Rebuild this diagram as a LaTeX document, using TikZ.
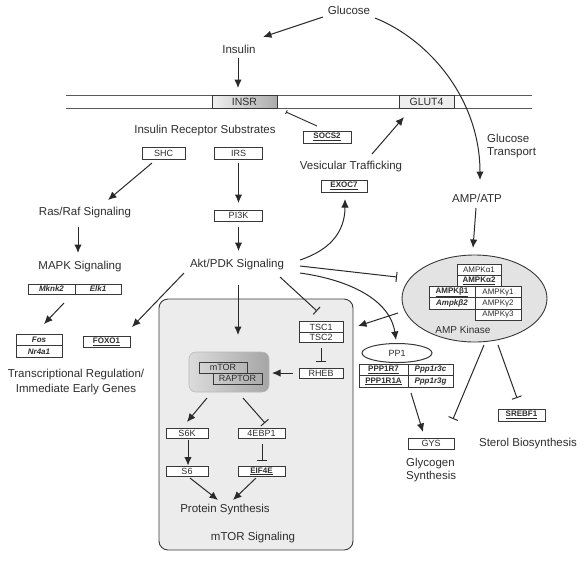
\documentclass[tikz,border=0pt]{standalone}
\usepackage{fontspec}
\setmainfont{Liberation Sans}
\usetikzlibrary{arrows.meta,calc,shapes.geometric}
\definecolor{ln}{HTML}{2A2A2A}
\definecolor{bx}{HTML}{383838}
\definecolor{tx}{HTML}{2E2E2E}
\begin{document}
\begin{tikzpicture}[x=1pt,y=-1pt,
  lbl/.style={font=\fontsize{11.5}{13}\selectfont, text=tx, inner sep=1pt},
  bx/.style={draw=bx, line width=1pt, fill=white, font=\fontsize{9}{9}\selectfont, text=tx, inner sep=0pt},
  sb/.style={bx, font=\fontsize{8}{8}\selectfont\bfseries},
  ab/.style={bx, font=\fontsize{8}{8}\selectfont, minimum height=11.3pt},
  mem/.style={draw=gray!70!black, line width=0.9pt},
  arr/.style={draw=ln, line width=1pt, -{Latex[length=8.5pt,width=7.5pt]}},
  inh/.style={draw=ln, line width=1pt, -{Bar[width=10pt,line width=1pt]}}
]
\useasboundingbox (0,0) rectangle (588,568);
\fill[white] (0,0) rectangle (588,568);

% mTOR signalling region
\node[draw=bx, line width=0.9pt, fill=gray!15, rounded corners=9pt, minimum width=194pt, minimum height=251pt, inner sep=0pt] (mtorbig) at (256,424.5) {};
\node[lbl] (mtorsig) at (253,538) {mTOR Signaling};

% membrane
\draw[mem] (66,95) -- (532,95);
\draw[mem] (66,108) -- (532,108);

% top labels
\node[lbl] (glucose) at (349,10) {Glucose};
\node[lbl] (insulin) at (239,49) {Insulin};
\node[bx, minimum width=65pt, minimum height=13pt, left color=gray!12, right color=gray!65, font=\fontsize{10.5}{11}\selectfont] (insr) at (244.5,101.5) {INSR};
\node[bx, minimum width=55pt, minimum height=13pt, fill=gray!14, font=\fontsize{10.5}{11}\selectfont] (glut4) at (426.5,101.5) {GLUT4};
\node[sb, minimum width=48pt, minimum height=12pt] (socs2) at (327,137) {\underline{SOCS2}};
\node[lbl] (irslbl) at (205,131) {Insulin Receptor Substrates};
\node[bx, minimum width=43pt, minimum height=12pt] (shc) at (163.5,153) {SHC};
\node[bx, minimum width=48pt, minimum height=12pt] (irs) at (238.5,153) {IRS};
\node[bx, minimum width=48pt, minimum height=11pt] (pi3k) at (238.5,215.5) {PI3K};
\node[lbl] (vesic) at (351,167) {Vesicular Trafficking};
\node[sb, minimum width=46pt, minimum height=12pt] (exoc7) at (344,186) {\underline{EXOC7}};
\node[lbl, align=left, anchor=west] (gtrans) at (486,146.5) {Glucose\\Transport};
\node[lbl] (ampatp) at (477,198) {AMP/ATP};

% left side
\node[lbl] (rasraf) at (85,213) {Ras/Raf Signaling};
\node[lbl] (mapk) at (80,267) {MAPK Signaling};
\node[lbl] (akt) at (237,265) {Akt/PDK Signaling};
\node[sb, minimum width=47pt, minimum height=10pt] (mknk2) at (51.5,289) {\itshape Mknk2};
\node[sb, minimum width=46pt, minimum height=10pt] (elk1) at (98,289) {\itshape Elk1};
\node[sb, minimum width=46pt, minimum height=11.5pt] (fos) at (39,340) {\itshape Fos};
\node[sb, minimum width=46pt, minimum height=11.5pt] (nr4a1) at (39,351.5) {\itshape Nr4a1};
\node[sb, minimum width=47pt, minimum height=11pt] (foxo1) at (106.5,341.5) {\underline{FOXO1}};
\node[lbl, align=center, font=\fontsize{11.5}{15}\selectfont] (transc) at (76,382.5) {Transcriptional Regulation/\\Immediate Early Genes};

% mTOR complex
\node[draw=gray!55, line width=0.6pt, rounded corners=7pt, left color=gray!28, middle color=gray!6, right color=gray!70, minimum width=80pt, minimum height=40pt, inner sep=0pt] (mtorcx) at (229,372) {};
\node[bx, fill=none, minimum width=48pt, minimum height=11pt] (mtor) at (223,367.5) {mTOR};
\node[bx, fill=none, minimum width=49pt, minimum height=11pt] (raptor) at (237.5,378.5) {RAPTOR};
\node[bx, minimum width=44pt, minimum height=10.5pt] (tsc1) at (321,327) {TSC1};
\node[bx, minimum width=44pt, minimum height=10.5pt] (tsc2) at (321,337.5) {TSC2};
\node[bx, minimum width=44pt, minimum height=10pt] (rheb) at (321,373) {RHEB};
\node[bx, minimum width=42pt, minimum height=10pt] (s6k) at (187,433.5) {S6K};
\node[bx, minimum width=47pt, minimum height=10pt] (ebp) at (261.5,433.5) {4EBP1};
\node[bx, minimum width=42pt, minimum height=10pt] (s6) at (187,471.5) {S6};
\node[sb, minimum width=47pt, minimum height=10pt] (eif4e) at (261.5,471.5) {\underline{EIF4E}};
\node[lbl] (protein) at (225,510) {Protein Synthesis};

% AMP kinase
\node[draw=bx, line width=0.9pt, fill=gray!22, ellipse, minimum width=145pt, minimum height=87pt, inner sep=0pt] (ampk) at (474.5,298.5) {};
\node[ab, minimum width=44pt] (a1) at (479,269.65) {AMPKα1};
\node[ab, minimum width=44pt, font=\fontsize{8}{8}\selectfont\bfseries] (a2) at (479,280.95) {\underline{AMPKα2}};
\node[ab, minimum width=46pt, font=\fontsize{8}{8}\selectfont\bfseries] (b1) at (452,292.25) {\underline{AMPKβ1}};
\node[ab, minimum width=46pt, font=\fontsize{8}{8}\selectfont\bfseries\itshape] (b2) at (452,303.55) {Ampkβ2};
\node[ab, minimum width=46pt] (g1) at (498,292.25) {AMPKγ1};
\node[ab, minimum width=46pt] (g2) at (498,303.55) {AMPKγ2};
\node[ab, minimum width=46pt] (g3) at (498,314.85) {AMPKγ3};
\node[lbl, font=\fontsize{10}{11}\selectfont] (ampklbl) at (463,330) {AMP Kinase};

% PP1
\node[draw=bx, line width=1pt, fill=white, ellipse, minimum width=70pt, minimum height=19pt, inner sep=0pt, font=\fontsize{9}{9}\selectfont, text=tx] (pp1) at (397,353) {PP1};
\node[sb, minimum width=49pt, minimum height=11.5pt] (r7) at (383.5,369.75) {\underline{PPP1R7}};
\node[sb, minimum width=45pt, minimum height=11.5pt] (r3c) at (430.5,369.75) {\itshape Ppp1r3c};
\node[sb, minimum width=49pt, minimum height=11.5pt] (r1a) at (383.5,381.25) {\underline{PPP1R1A}};
\node[sb, minimum width=45pt, minimum height=11.5pt] (r3g) at (430.5,381.25) {\itshape Ppp1r3g};
\node[bx, minimum width=46pt, minimum height=11pt] (gys) at (431,443.5) {GYS};
\node[lbl, align=left, anchor=west] (glyco) at (405,470.5) {Glycogen\\Synthesis};
\node[sb, minimum width=47pt, minimum height=12pt] (srebf1) at (521.5,415) {\underline{SREBF1}};
\node[lbl] (sterol) at (528,444) {Sterol Biosynthesis};

% connectors
\draw[arr] ($(glucose)+(-26,7)$) -- ($(insulin)+(24,-12)$);
\draw[arr] ($(glucose)+(26,8)$) .. controls (430,40) and (480,100) .. ($(ampatp)+(3,-18)$);
\draw[arr] ($(insulin)+(-1,9)$) -- ($(insr)+(-6.5,-13.5)$);
\draw[draw=ln, line width=0.9pt, -{Bar[width=4pt,line width=0.9pt]}] ($(socs2)+(-10,-11)$) -- ($(insr)+(41.5,10.5)$);
\draw[arr] ($(shc)+(-11.5,10)$) -- ($(rasraf)+(23,-13)$);
\draw[arr] ($(irs)+(0,10)$) -- ($(pi3k)+(0,-12.5)$);
\draw[arr] ($(rasraf)+(-7,14)$) -- ($(mapk)+(-2,-14)$);
\draw[arr] ($(pi3k)+(0,11.5)$) -- ($(akt)+(1.5,-14)$);
\draw[arr] ($(mknk2)+(12.5,14)$) -- ($(fos)+(5,-16)$);
\draw[arr] ($(akt)+(-53,8)$) -- ($(foxo1)+(25.5,-14.5)$);
\draw[arr] ($(akt)+(1,20)$) -- ($(mtorcx)+(9,-37)$);
\draw[inh] ($(akt)+(43,12)$) -- ($(tsc1)+(-4,-16)$);
\draw[inh] ($(akt)+(63,1)$) -- ($(ampk)+(-77.5,-21.5)$);
\draw[arr] ($(akt)+(63,-5)$) .. controls (330,250) and (345,232) .. ($(exoc7)+(1,13)$);
\draw[arr] ($(akt)+(63,8)$) .. controls (350,280) and (390,300) .. ($(pp1)+(-1,-13)$);
\draw[arr] ($(ampk)+(-76.5,14.5)$) -- ($(tsc1)+(37,-1)$);
\draw[arr] ($(ampatp)+(-1,10)$) -- ($(ampk)+(-1.5,-50.5)$);
\draw[arr] ($(rheb)+(-28,0)$) -- ($(mtorcx)+(43,1)$);
\draw[inh] ($(tsc2)+(0,10)$) -- ($(rheb)+(0,-11)$);
\draw[arr] ($(mtorcx)+(-22,26)$) -- ($(s6k)+(0,-11.5)$);
\draw[inh] ($(mtorcx)+(14,26)$) -- ($(ebp)+(3.5,-10.5)$);
\draw[arr] ($(s6k)+(1,6)$) -- ($(s6)+(1,-6)$);
\draw[inh] ($(ebp)+(0.5,10.5)$) -- ($(eif4e)+(0.5,-10.5)$);
\draw[arr] ($(s6)+(3,6.5)$) -- ($(protein)+(-7,-10)$);
\draw[arr] ($(eif4e)+(-5.5,6.5)$) -- ($(protein)+(8,-10)$);
\draw[arr] ($(vesic)+(21,-13)$) -- ($(glut4)+(-22.5,15.5)$);
\draw[arr] ($(r1a)+(27.5,11.75)$) -- ($(gys)+(-8,-11.5)$);
\draw[inh] ($(ampk)+(9.5,46.5)$) -- ($(gys)+(22,-24.5)$);
\draw[inh] ($(ampk)+(23.5,46.5)$) -- ($(srebf1)+(-4.5,-17)$);
\end{tikzpicture}
\end{document}
